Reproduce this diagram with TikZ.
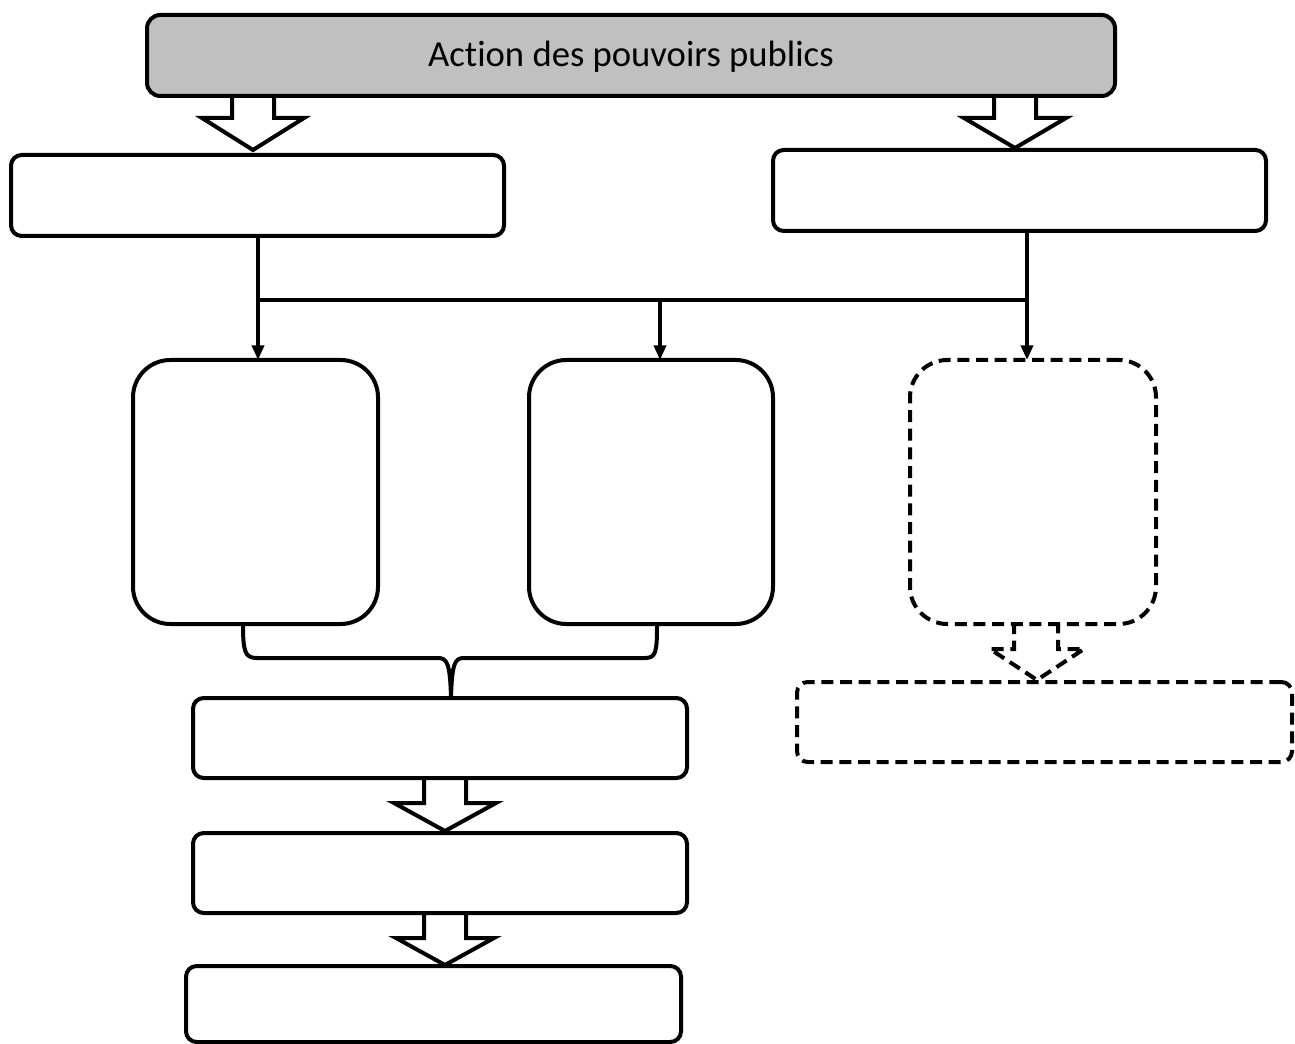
\documentclass[tikz,border=0pt]{standalone}
\usepackage{fontspec}
\setmainfont{Carlito}[RawFeature=-liga]
\usetikzlibrary{arrows.meta}
\definecolor{boxgray}{RGB}{192,192,192}
\tikzset{
  pbox/.style={draw=black, line width=3pt, rounded corners=8pt, fill=white, inner sep=0pt, outer sep=0pt},
  tallbox/.style={pbox, rounded corners=28pt},
  dashbox/.style={dash pattern=on 9pt off 5pt},
  conn/.style={line width=3pt},
  tip/.style={conn, -{Triangle[length=11pt,width=9pt]}},
  hollow/.style={line width=3pt, fill=white, line join=miter},
  wh/.style 2 args={minimum width={#1*0.75pt}, minimum height={#2*0.75pt}},
}
\begin{document}
\begin{tikzpicture}[x=0.75pt,y=-0.75pt]
\useasboundingbox (0,0) rectangle (1295,1044);
% hollow arrows (drawn first, boxes on top)
\draw[hollow] (232,94) -- (232,118) -- (202,118) -- (253,150) -- (304,118) -- (274,118) -- (274,94);
\draw[hollow] (994,94) -- (994,118) -- (964,118) -- (1015,148) -- (1066,118) -- (1036,118) -- (1036,94);
\draw[hollow] (424,776) -- (424,803) -- (394,803) -- (445,831) -- (496,803) -- (466,803) -- (466,776);
\draw[hollow] (424,911) -- (424,938) -- (396,938) -- (445,965) -- (494,938) -- (466,938) -- (466,911);
\draw[hollow, dashbox] (1014,622) -- (1014,649) -- (990,649) -- (1037,680) -- (1084,649) -- (1058,649) -- (1058,622);
% boxes
\node[pbox, fill=boxgray, rounded corners=10pt, wh={968}{81}] (top) at (631,55.5) {};
\node[inner sep=0pt] (toptext) at (631,57) {\fontsize{27.5pt}{32pt}\selectfont Action des pouvoirs publics};
\node[pbox, wh={493}{81}] (L1) at (257.5,195.5) {};
\node[pbox, wh={493}{81}] (R1) at (1019.5,190.5) {};
\node[tallbox, wh={245}{264}] (M1) at (255.5,492) {};
\node[tallbox, wh={244}{264}] (M2) at (651,492) {};
\node[tallbox, dashbox, wh={246}{264}] (M3) at (1033,492) {};
\node[pbox, wh={494}{80}] (B1) at (440,738) {};
\node[pbox, wh={494}{80}] (B2) at (440,873) {};
\node[pbox, wh={495}{76}] (B3) at (433.5,1004) {};
\node[pbox, dashbox, wh={495}{80}] (R2) at (1044.5,722) {};
% connectors
\coordinate (jl) at (258,300);
\coordinate (jm) at (660,300);
\coordinate (jr) at (1027,300);
\draw[conn] (258,234) -- (jl) -- (jr);
\draw[conn] (jr) -- (1027,229);
\draw[tip] (jl) -- (jl |- M1.north);
\draw[tip] (jm) -- (jm |- M2.north);
\draw[tip] (jr) -- (jr |- M3.north);
% brace
\draw[conn, line join=round] (243,624) .. controls (243,652) and (245,658) .. (257,658) -- (438,658)
  .. controls (447,658) and (450,663) .. (451,697)
  .. controls (452,663) and (455,658) .. (464,658) -- (645,658)
  .. controls (656,658) and (657,652) .. (657,624);
\end{tikzpicture}
\end{document}
